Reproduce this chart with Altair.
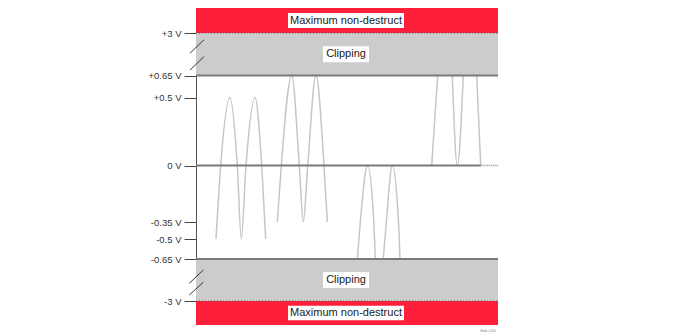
import altair as alt
import pandas as pd

# ---- data ----
# time window (arbitrary units) and voltage anchors of the schematic (broken) axis
t_start, t_end = 0, 302
y_anchor_v = [-3.5, -3, -0.65, -0.5, -0.35, 0, 0.5, 0.65, 3, 3.5]
y_anchor_px = [317, 293, 251, 231, 214, 157.5, 89.5, 67.5, 25, 0]

tick_values = [3, 0.65, 0.5, 0, -0.35, -0.5, -0.65, -3]
tick_labels = ["+3 V", "+0.65 V", "+0.5 V", "0 V", "-0.35 V", "-0.5 V", "-0.65 V", "-3 V"]

band_lo = [3, 0.65, -3, -3.5]
band_hi = [3.5, 3, -0.65, -3]
band_kind = ["destruct", "clip", "clip", "destruct"]

# waveform segments (time, volts)
w1_t = [20, 24.7, 34, 41.3, 45.3, 50, 59, 65.7, 69.7]
w1_v = [-0.5, 0, 0.5, 0, -0.5, 0, 0.5, 0, -0.5]
w2_t = [81.3, 85.3, 95.7, 103.3, 107.3, 111.7, 120, 128, 131.3]
w2_v = [-0.35, 0, 0.65, 0, -0.35, 0, 0.65, 0, -0.35]
w3a_t = [161.3, 164.3, 171.5, 177.8, 179.3]
w3a_v = [-0.65, -0.35, 0, -0.35, -0.65]
w3b_t = [187.3, 190.3, 196.3, 202.5, 204]
w3b_v = [-0.65, -0.35, 0, -0.35, -0.65]
w4a_t = [235.7, 241.7]
w4a_v = [0, 0.65]
w4b_t = [256.3, 261.3, 267.3]
w4b_v = [0.65, 0, 0.65]
w4c_t = [280.7, 284.7]
w4c_v = [0.65, 0]

label_text = ["Maximum non-destruct", "Clipping", "Clipping", "Maximum non-destruct"]
label_v = [3.25, 1.825, -1.825, -3.25]
box_lo = [3.1, 1.377, -2.273, -3.4]
box_hi = [3.4, 2.273, -1.377, -3.1]
box_half = [58, 23, 23, 58]
label_t = 150

zero_solid_end = 284.7

# axis break marks (time, volts)
brk_t0 = [-6, -6, -6.7, -6.7]
brk_t1 = [8, 8, 7.3, 7.3]
brk_v0 = [1.881, 0.946, -2.010, -2.665]
brk_v1 = [2.625, 1.696, -1.266, -1.954]

fig_id = "fbdc.016"

# ---- tables ----
segs = []
for name, ts, vs in [("w1", w1_t, w1_v), ("w2", w2_t, w2_v), ("w3a", w3a_t, w3a_v),
                     ("w3b", w3b_t, w3b_v), ("w4a", w4a_t, w4a_v), ("w4b", w4b_t, w4b_v),
                     ("w4c", w4c_t, w4c_v)]:
    for t, v in zip(ts, vs):
        segs.append({"seg": name, "t": t, "v": v})
waves_df = pd.DataFrame(segs)

bands_df = pd.DataFrame({"lo": band_lo, "hi": band_hi, "kind": band_kind,
                         "t0": t_start, "t1": t_end})
solid_df = pd.DataFrame({"v": [0.65, -0.65, 0], "t0": [t_start, t_start, t_start],
                         "t1": [t_end, t_end, zero_solid_end]})
dotted_df = pd.DataFrame({"v": [3, -3], "t0": t_start, "t1": t_end})
zero_dot_df = pd.DataFrame({"v": [0], "t0": [zero_solid_end], "t1": [t_end]})
labels_df = pd.DataFrame({"text": label_text, "v": label_v, "lo": box_lo, "hi": box_hi,
                          "t0": [label_t - h for h in box_half],
                          "t1": [label_t + h for h in box_half], "t": label_t})
brk_df = pd.DataFrame({"t0": brk_t0, "t1": brk_t1, "v0": brk_v0, "v1": brk_v1})
id_df = pd.DataFrame({"t": [292], "v": [-3.63], "text": [fig_id]})

xs = alt.Scale(domain=[t_start, t_end], nice=False, zero=False)
ys = alt.Scale(domain=y_anchor_v, range=y_anchor_px, nice=False, zero=False)

label_expr = ""
for val, lab in zip(tick_values, tick_labels):
    label_expr += f"abs(datum.value - ({val})) < 1e-6 ? '{lab}' : "
label_expr += "''"

yaxis = alt.Axis(values=tick_values, labelExpr=label_expr, title=None, grid=False,
                 domainColor="#555555", domainWidth=1, tickColor="#444444", tickSize=12,
                 tickWidth=1, labelFont="Liberation Sans", labelFontSize=9.5,
                 labelColor="#333333", labelPadding=3)

bands = alt.Chart(bands_df).mark_rect().encode(
    x=alt.X("t0:Q", scale=xs, axis=None), x2="t1:Q",
    y=alt.Y("lo:Q", scale=ys, axis=yaxis), y2="hi:Q",
    color=alt.Color("kind:N", scale=alt.Scale(domain=["destruct", "clip"],
                                              range=["#fe1f3a", "#cccccc"]), legend=None),
)

waves = alt.Chart(waves_df).mark_line(color="#c6c6c6", strokeWidth=1.5,
                                      interpolate="monotone").encode(
    x=alt.X("t:Q", scale=xs), y=alt.Y("v:Q", scale=ys), detail="seg:N", order="t:Q")

solid = alt.Chart(solid_df).mark_rule(color="#7a7a7a", strokeWidth=2).encode(
    x=alt.X("t0:Q", scale=xs), x2="t1:Q", y=alt.Y("v:Q", scale=ys))
dotted = alt.Chart(dotted_df).mark_rule(color="#555555", strokeWidth=1,
                                        strokeDash=[1, 2]).encode(
    x=alt.X("t0:Q", scale=xs), x2="t1:Q", y=alt.Y("v:Q", scale=ys))
zero_dot = alt.Chart(zero_dot_df).mark_rule(color="#8a8a8a", strokeWidth=1.5,
                                            strokeDash=[1, 1]).encode(
    x=alt.X("t0:Q", scale=xs), x2="t1:Q", y=alt.Y("v:Q", scale=ys))

brk = alt.Chart(brk_df).mark_rule(color="#333333", strokeWidth=1).encode(
    x=alt.X("t0:Q", scale=xs), x2="t1:Q", y=alt.Y("v0:Q", scale=ys), y2="v1:Q")

boxes = alt.Chart(labels_df).mark_rect(color="white").encode(
    x=alt.X("t0:Q", scale=xs), x2="t1:Q", y=alt.Y("lo:Q", scale=ys), y2="hi:Q")
texts = alt.Chart(labels_df).mark_text(font="Liberation Sans", fontSize=11,
                                       color="#1a1a1a", baseline="middle",
                                       align="center").encode(
    x=alt.X("t:Q", scale=xs), y=alt.Y("v:Q", scale=ys), text="text:N")

fid = alt.Chart(id_df).mark_text(font="Liberation Sans", fontSize=4, color="#888888",
                                 align="center", baseline="middle").encode(
    x=alt.X("t:Q", scale=xs), y=alt.Y("v:Q", scale=ys), text="text:N")

chart = alt.layer(bands, waves, solid, dotted, zero_dot, brk, boxes, texts, fid).properties(
    width=302, height=317,
    padding={"left": 196, "top": 8, "right": 175, "bottom": 10},
    autosize=alt.AutoSizeParams(type="none"),
    background="white",
).configure_view(stroke=None)

chart.save("out.html", embed_options={"renderer": "svg", "actions": False})
